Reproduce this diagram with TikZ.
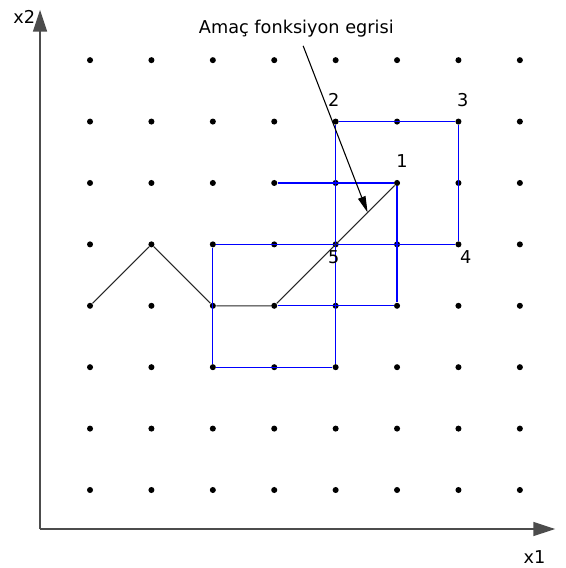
\documentclass[tikz,border=0pt]{standalone}
\usepackage{fontspec}
\setmainfont{DejaVu Sans}
\usepackage{tikz}
\usetikzlibrary{arrows.meta}
\tikzset{
  dot/.style={circle,fill,inner sep=0pt,minimum size=2.8pt},
  lbl/.style={inner sep=1pt,font=\fontsize{8.2}{10}\selectfont},
  step edge/.style={blue,line width=0.55pt},
  path edge/.style={black!85,line width=0.5pt},
  axis/.style={black!70,line width=0.5pt,-{Triangle[length=10pt,width=6.5pt]}},
}

\begin{document}
\begin{tikzpicture}
        \useasboundingbox (-1.466,-1.270) rectangle (7.736,7.980);

        % Define grid points by coordinates
        \foreach \i in {0,...,7}
          \foreach \j in {0,...,7}
            \node[dot] (d\i\j) at (\i,\j) {};

        % Axes
        \coordinate (O) at (-0.814,-0.635);
        \coordinate (X) at (7.573,-0.635);
        \coordinate (Y) at (-0.814,7.818);
        \draw[axis] (O) -- (X);
        \draw[axis] (O) -- (Y);
        \node[lbl] (x1) at (7.24,-1.09) {x1};
        \node[lbl] (x2) at (-1.07,7.70) {x2};

        % Draw edges
        \draw[step edge] (d46) -- (d66) -- (d64);
        \draw[step edge] (d24) -- (d64);
        \draw[step edge] (d46) -- (d42);
        \draw[step edge] (d35) -- (d55) -- (d53) -- (d33) -- cycle;
        \draw[step edge] (d24) -- (d22) -- (d42);
        \draw[path edge] (d03) -- (d14) -- (d23) -- (d33) -- (d55);

        % Point labels
        \node[lbl] (n1) at (5.08,5.36) {1};
        \node[lbl] (n2) at (3.97,6.35) {2};
        \node[lbl] (n3) at (6.07,6.35) {3};
        \node[lbl] (n4) at (6.12,3.79) {4};
        \node[lbl] (n5) at (3.97,3.79) {5};

        % Objective curve note
        \node[lbl,inner sep=4pt] (note) at (3.36,7.52) {Amaç fonksiyon egrisi};
        \coordinate (p) at (4.52,4.52);
        \draw[black,line width=0.5pt,-{Triangle[length=7.5pt,width=3.6pt]}] (note) -- (p);

\end{tikzpicture}
\end{document}
